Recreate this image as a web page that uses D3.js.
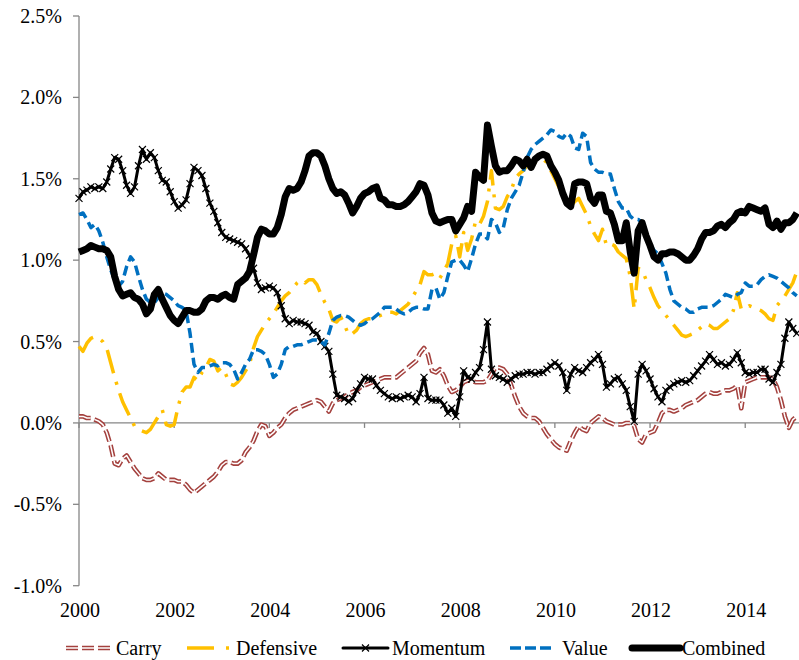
<!DOCTYPE html>
<html>
<head>
<meta charset="utf-8">
<script src="https://cdn.jsdelivr.net/npm/d3@7"></script>
<style>
  body { margin: 0; background: #fff; }
</style>
</head>
<body>
<svg width="799" height="660"></svg>
<script>
// monthly series, Jan 2000 onwards (values in %)
const startYear = 2000;
const yearTicks = [2000, 2002, 2004, 2006, 2008, 2010, 2012, 2014];
const valueTicks = [-1.0, -0.5, 0.0, 0.5, 1.0, 1.5, 2.0, 2.5];

const carry = [
  0.04, 0.04, 0.03, 0.03, 0.02, 0.01, -0.01, -0.06, -0.14, -0.25, -0.26, -0.22,
  -0.20, -0.24, -0.28, -0.31, -0.34, -0.35, -0.35, -0.34, -0.31, -0.33, -0.35, -0.35,
  -0.35, -0.36, -0.36, -0.38, -0.41, -0.43, -0.41, -0.39, -0.37, -0.35, -0.33, -0.30,
  -0.26, -0.24, -0.24, -0.25, -0.25, -0.23, -0.18, -0.15, -0.11, -0.05, -0.01, -0.02,
  -0.08, -0.06, -0.03, -0.01, 0.03, 0.06, 0.08, 0.09, 0.10, 0.11, 0.12, 0.13,
  0.14, 0.13, 0.10, 0.07, 0.12, 0.14, 0.15, 0.16, 0.18, 0.19, 0.20, 0.22,
  0.23, 0.24, 0.25, 0.26, 0.27, 0.28, 0.28, 0.28, 0.28, 0.30, 0.32, 0.34,
  0.36, 0.38, 0.43, 0.46, 0.42, 0.32, 0.31, 0.33, 0.29, 0.23, 0.19, 0.20,
  0.22, 0.25, 0.26, 0.26, 0.25, 0.25, 0.25, 0.26, 0.30, 0.34, 0.34, 0.33,
  0.30, 0.23, 0.16, 0.10, 0.06, 0.04, 0.03, 0.03, 0.01, -0.03, -0.07, -0.10,
  -0.13, -0.15, -0.16, -0.17, -0.11, -0.06, -0.02, -0.04, -0.05, 0.00, 0.02, 0.04,
  0.03, 0.01, 0.00, -0.01, -0.01, -0.01, 0.00, 0.00, -0.02, -0.10, -0.12, -0.07,
  -0.06, -0.05, 0.00, 0.06, 0.08, 0.08, 0.07, 0.08, 0.09, 0.11, 0.12, 0.13,
  0.14, 0.16, 0.18, 0.19, 0.18, 0.18, 0.19, 0.20, 0.20, 0.21, 0.23, 0.09,
  0.25, 0.26, 0.27, 0.28, 0.28, 0.28, 0.28, 0.27, 0.22, 0.14, 0.04, -0.03,
  0.02, 0.04
];

const defensive = [
  0.47, 0.44, 0.49, 0.52, 0.53, 0.52, 0.50, 0.46, 0.37, 0.28, 0.20, 0.13,
  0.08, 0.03, -0.02, -0.04, -0.05, -0.06, -0.04, 0.00, 0.04, 0.08, -0.01, -0.02,
  -0.01, 0.10, 0.19, 0.22, 0.22, 0.28, 0.26, 0.31, 0.34, 0.39, 0.38, 0.32,
  0.34, 0.30, 0.24, 0.23, 0.25, 0.28, 0.32, 0.36, 0.46, 0.53, 0.57, 0.61,
  0.64, 0.67, 0.71, 0.75, 0.78, 0.80, 0.83, 0.86, 0.88, 0.86, 0.88, 0.88,
  0.85, 0.79, 0.74, 0.70, 0.63, 0.62, 0.65, 0.60, 0.54, 0.55, 0.57, 0.61,
  0.63, 0.64, 0.64, 0.65, 0.66, 0.67, 0.68, 0.68, 0.67, 0.69, 0.71, 0.73,
  0.77, 0.81, 0.85, 0.93, 0.91, 0.91, 0.92, 0.89, 0.93, 0.98, 1.10, 1.15,
  1.02, 1.17, 1.06, 1.13, 1.24, 1.22, 1.27, 1.36, 1.55, 1.32, 1.31, 1.33,
  1.39, 1.43, 1.50, 1.53, 1.55, 1.58, 1.59, 1.60, 1.61, 1.62, 1.60, 1.55,
  1.50, 1.45, 1.40, 1.37, 1.33, 1.36, 1.38, 1.33, 1.28, 1.21, 1.16, 1.12,
  1.19, 1.09, 1.10, 1.09, 1.05, 1.03, 1.01, 0.90, 0.70, 0.95, 0.94, 0.88,
  0.83, 0.77, 0.72, 0.69, 0.66, 0.63, 0.60, 0.57, 0.54, 0.53, 0.54, 0.55,
  0.57, 0.59, 0.61, 0.60, 0.58, 0.58, 0.60, 0.62, 0.64, 0.69, 0.80, 0.70,
  0.70, 0.72, 0.71, 0.70, 0.69, 0.67, 0.64, 0.63, 0.72, 0.75, 0.78, 0.82,
  0.86, 0.93
];

const momentum = [
  1.38, 1.42, 1.43, 1.45, 1.44, 1.45, 1.44, 1.48, 1.56, 1.63, 1.62, 1.55,
  1.46, 1.41, 1.45, 1.58, 1.68, 1.62, 1.66, 1.63, 1.55, 1.49, 1.48, 1.42,
  1.36, 1.32, 1.34, 1.37, 1.47, 1.57, 1.55, 1.52, 1.44, 1.35, 1.30, 1.23,
  1.17, 1.14, 1.13, 1.12, 1.11, 1.10, 1.07, 1.03, 0.95, 0.86, 0.82, 0.83,
  0.84, 0.83, 0.80, 0.72, 0.64, 0.61, 0.63, 0.62, 0.62, 0.61, 0.60, 0.56,
  0.55, 0.50, 0.47, 0.44, 0.30, 0.17, 0.16, 0.15, 0.13, 0.15, 0.20, 0.24,
  0.28, 0.27, 0.27, 0.23, 0.20, 0.18, 0.16, 0.15, 0.16, 0.15, 0.16, 0.17,
  0.16, 0.13, 0.18, 0.28, 0.15, 0.14, 0.14, 0.14, 0.11, 0.06, 0.09, 0.04,
  0.16, 0.32, 0.28, 0.27, 0.31, 0.34, 0.45, 0.62, 0.33, 0.29, 0.28, 0.27,
  0.25, 0.27, 0.29, 0.30, 0.30, 0.31, 0.31, 0.30, 0.31, 0.31, 0.33, 0.35,
  0.37, 0.35, 0.31, 0.20, 0.30, 0.34, 0.32, 0.31, 0.34, 0.37, 0.39, 0.42,
  0.36, 0.22, 0.24, 0.27, 0.28, 0.24, 0.20, 0.10, 0.01, 0.30, 0.36, 0.32,
  0.27, 0.21, 0.16, 0.13, 0.20, 0.22, 0.24, 0.25, 0.26, 0.25, 0.26, 0.29,
  0.32, 0.35, 0.38, 0.42, 0.39, 0.36, 0.37, 0.35, 0.36, 0.39, 0.43, 0.37,
  0.31, 0.30, 0.31, 0.31, 0.33, 0.33, 0.27, 0.25, 0.31, 0.36, 0.52, 0.62,
  0.58, 0.55
];

const value = [
  1.28, 1.29, 1.25, 1.20, 1.22, 1.18, 1.11, 1.02, 0.94, 0.88, 0.84, 0.87,
  0.96, 1.02, 0.99, 0.90, 0.82, 0.76, 0.74, 0.74, 0.77, 0.80, 0.79, 0.77,
  0.75, 0.72, 0.71, 0.69, 0.55, 0.36, 0.31, 0.34, 0.34, 0.35, 0.36, 0.35,
  0.37, 0.37, 0.36, 0.33, 0.27, 0.31, 0.36, 0.39, 0.45, 0.45, 0.44, 0.42,
  0.36, 0.28, 0.30, 0.36, 0.45, 0.47, 0.47, 0.48, 0.48, 0.49, 0.50, 0.51,
  0.51, 0.50, 0.48, 0.55, 0.63, 0.65, 0.66, 0.66, 0.65, 0.63, 0.61, 0.60,
  0.61, 0.63, 0.64, 0.66, 0.68, 0.71, 0.71, 0.71, 0.70, 0.68, 0.67, 0.68,
  0.70, 0.71, 0.71, 0.70, 0.70, 0.82, 0.83, 0.76, 0.80, 0.90, 0.99, 1.00,
  1.00, 0.97, 0.93, 1.01, 1.10, 1.16, 1.16, 1.13, 1.25, 1.23, 1.17, 1.20,
  1.31, 1.38, 1.42, 1.46, 1.54, 1.63, 1.68, 1.71, 1.73, 1.75, 1.77, 1.80,
  1.79, 1.76, 1.75, 1.78, 1.76, 1.69, 1.68, 1.78, 1.76, 1.60, 1.56, 1.54,
  1.54, 1.53, 1.53, 1.44, 1.36, 1.32, 1.32, 1.27, 1.25, 1.25, 1.23, 1.15,
  1.10, 1.06, 1.04, 0.98, 0.92, 0.82, 0.75, 0.73, 0.71, 0.70, 0.68, 0.68,
  0.70, 0.71, 0.71, 0.71, 0.72, 0.74, 0.76, 0.79, 0.78, 0.77, 0.79, 0.80,
  0.86, 0.84, 0.84, 0.85, 0.88, 0.90, 0.91, 0.90, 0.89, 0.87, 0.85, 0.83,
  0.80, 0.78
];

const combined = [
  1.05, 1.06, 1.07, 1.09, 1.08, 1.07, 1.07, 1.06, 1.02, 0.90, 0.82, 0.78,
  0.79, 0.80, 0.77, 0.76, 0.73, 0.67, 0.70, 0.79, 0.82, 0.76, 0.71, 0.66,
  0.63, 0.61, 0.65, 0.69, 0.69, 0.68, 0.68, 0.70, 0.75, 0.77, 0.77, 0.76,
  0.78, 0.79, 0.77, 0.76, 0.85, 0.87, 0.89, 0.93, 1.03, 1.14, 1.19, 1.18,
  1.16, 1.16, 1.20, 1.28, 1.39, 1.44, 1.43, 1.44, 1.48, 1.55, 1.64, 1.66,
  1.66, 1.64, 1.58, 1.50, 1.44, 1.41, 1.42, 1.40, 1.35, 1.29, 1.33, 1.38,
  1.41, 1.42, 1.44, 1.45, 1.38, 1.37, 1.34, 1.34, 1.33, 1.33, 1.34, 1.36,
  1.39, 1.42, 1.47, 1.46, 1.40, 1.29, 1.24, 1.23, 1.24, 1.25, 1.25, 1.18,
  1.22, 1.26, 1.33, 1.30, 1.54, 1.51, 1.49, 1.83, 1.70, 1.58, 1.54, 1.55,
  1.55, 1.58, 1.62, 1.61, 1.58, 1.62, 1.57, 1.62, 1.64, 1.65, 1.64, 1.58,
  1.54, 1.49, 1.41, 1.35, 1.33, 1.47, 1.48, 1.48, 1.47, 1.38, 1.35, 1.40,
  1.40, 1.30, 1.29, 1.22, 1.12, 1.12, 1.23, 1.05, 0.92, 1.18, 1.23, 1.15,
  1.09, 1.02, 1.00, 1.04, 1.04, 1.05, 1.05, 1.04, 1.02, 1.00, 1.00, 1.03,
  1.07, 1.13, 1.17, 1.17, 1.18, 1.21, 1.22, 1.20, 1.23, 1.25, 1.29, 1.30,
  1.29, 1.33, 1.32, 1.31, 1.30, 1.32, 1.22, 1.20, 1.24, 1.19, 1.23, 1.23,
  1.25, 1.29
];

const fontFamily = "'Liberation Serif', 'Times New Roman', Times, 'DejaVu Serif', serif";
const svg = d3.select('svg')
  .attr('font-family', fontFamily)
  .style('font-family', fontFamily);
const x = d3.scaleLinear().domain([2000, 2015.13]).range([79, 799]);
const y = d3.scaleLinear().domain([-1, 2.5]).range([585.7, 16]);
const axisColor = '#868686';

const toPoints = arr => arr.map((v, i) => ({ t: startYear + i / 12, v }));
const line = d3.line().x(d => x(d.t)).y(d => y(d.v));

// Y axis
const yAxis = svg.append('g').attr('class', 'y-axis');
yAxis.append('line')
  .attr('x1', x(2000)).attr('x2', x(2000))
  .attr('y1', y(2.5)).attr('y2', y(-1))
  .attr('stroke', axisColor).attr('stroke-width', 1.3);
yAxis.selectAll('.tick')
  .data(valueTicks)
  .enter()
  .append('line')
  .attr('x1', x(2000) - 6).attr('x2', x(2000))
  .attr('y1', d => y(d)).attr('y2', d => y(d))
  .attr('stroke', axisColor).attr('stroke-width', 1.3);
yAxis.selectAll('text')
  .data(valueTicks)
  .enter()
  .append('text')
  .attr('x', 62)
  .attr('y', d => y(d))
  .attr('dy', '0.35em')
  .attr('text-anchor', 'end')
  .attr('font-family', fontFamily)
  .attr('font-size', 20)
  .attr('fill', '#000')
  .text(d => d.toFixed(1) + '%');

// X axis (crosses at zero, labels sit at the bottom)
const xAxis = svg.append('g').attr('class', 'x-axis');
xAxis.append('line')
  .attr('x1', x(2000)).attr('x2', 799)
  .attr('y1', y(0)).attr('y2', y(0))
  .attr('stroke', axisColor).attr('stroke-width', 1.3);
xAxis.selectAll('.tick')
  .data(yearTicks)
  .enter()
  .append('line')
  .attr('x1', d => x(d)).attr('x2', d => x(d))
  .attr('y1', y(0)).attr('y2', y(0) + 5)
  .attr('stroke', axisColor).attr('stroke-width', 1.3);
xAxis.selectAll('text')
  .data(yearTicks)
  .enter()
  .append('text')
  .attr('x', d => x(d) + 1)
  .attr('y', 617)
  .attr('text-anchor', 'middle')
  .attr('font-family', fontFamily)
  .attr('font-size', 20)
  .attr('fill', '#000')
  .text(d => d);

// Series
const plot = svg.append('g').attr('class', 'plotarea')
  .attr('fill', 'none').attr('stroke-linejoin', 'round');

const carryPts = toPoints(carry);
plot.append('path').attr('d', line(carryPts))
  .attr('stroke', '#A4413E').attr('stroke-width', 4.6).attr('stroke-dasharray', '12,4');
plot.append('path').attr('d', line(carryPts))
  .attr('stroke', '#fff').attr('stroke-width', 1.5).attr('stroke-dasharray', '12,4');

plot.append('path').attr('d', line(toPoints(defensive)))
  .attr('stroke', '#FFC000').attr('stroke-width', 3.5).attr('stroke-dasharray', '24,9,3,9');

const momPts = toPoints(momentum);
plot.append('path').attr('d', line(momPts))
  .attr('stroke', '#000').attr('stroke-width', 3);
const cross = 'M-3.5,-3.5L3.5,3.5M-3.5,3.5L3.5,-3.5';
plot.selectAll('.mark')
  .data(momPts)
  .enter()
  .append('path')
  .attr('class', 'mark')
  .attr('transform', d => `translate(${x(d.t)},${y(d.v)})`)
  .attr('d', cross)
  .attr('stroke', '#000').attr('stroke-width', 1.2);

plot.append('path').attr('d', line(toPoints(value)))
  .attr('stroke', '#0070C0').attr('stroke-width', 3.5).attr('stroke-dasharray', '10,5');

plot.append('path').attr('d', line(toPoints(combined)))
  .attr('stroke', '#000').attr('stroke-width', 7);

// Legend
const legendItems = [
  { name: 'Carry', x1: 66, x2: 110, tx: 116 },
  { name: 'Defensive', x1: 187, x2: 230, tx: 236 },
  { name: 'Momentum', x1: 343, x2: 388, tx: 392 },
  { name: 'Value', x1: 510, x2: 551, tx: 562 },
  { name: 'Combined', x1: 632, x2: 680, tx: 682 }
];
const ly = 648;
const legend = svg.append('g').attr('class', 'legend').attr('fill', 'none');
const seg = d => `M${d.x1},${ly}L${d.x2},${ly}`;

legend.append('path').attr('d', seg(legendItems[0]))
  .attr('stroke', '#A4413E').attr('stroke-width', 4.6).attr('stroke-dasharray', '12,4');
legend.append('path').attr('d', seg(legendItems[0]))
  .attr('stroke', '#fff').attr('stroke-width', 1.5).attr('stroke-dasharray', '12,4');
legend.append('path').attr('d', seg(legendItems[1]))
  .attr('stroke', '#FFC000').attr('stroke-width', 3.5).attr('stroke-dasharray', '27,12,3,50');
legend.append('path').attr('d', seg(legendItems[2]))
  .attr('stroke', '#000').attr('stroke-width', 3).attr('stroke-linecap', 'round');
legend.append('path')
  .attr('transform', `translate(${(legendItems[2].x1 + legendItems[2].x2) / 2},${ly})`)
  .attr('d', cross).attr('stroke', '#000').attr('stroke-width', 1.2);
legend.append('path').attr('d', seg(legendItems[3]))
  .attr('stroke', '#0070C0').attr('stroke-width', 3.5).attr('stroke-dasharray', '11,4');
legend.append('path').attr('d', seg(legendItems[4]))
  .attr('stroke', '#000').attr('stroke-width', 7).attr('stroke-linecap', 'round');

svg.append('g').selectAll('text')
  .data(legendItems)
  .enter()
  .append('text')
  .attr('x', d => d.tx)
  .attr('y', ly)
  .attr('dy', '0.33em')
  .attr('font-family', fontFamily)
  .attr('font-size', 20)
  .attr('fill', '#000')
  .text(d => d.name);
</script>
</body>
</html>
